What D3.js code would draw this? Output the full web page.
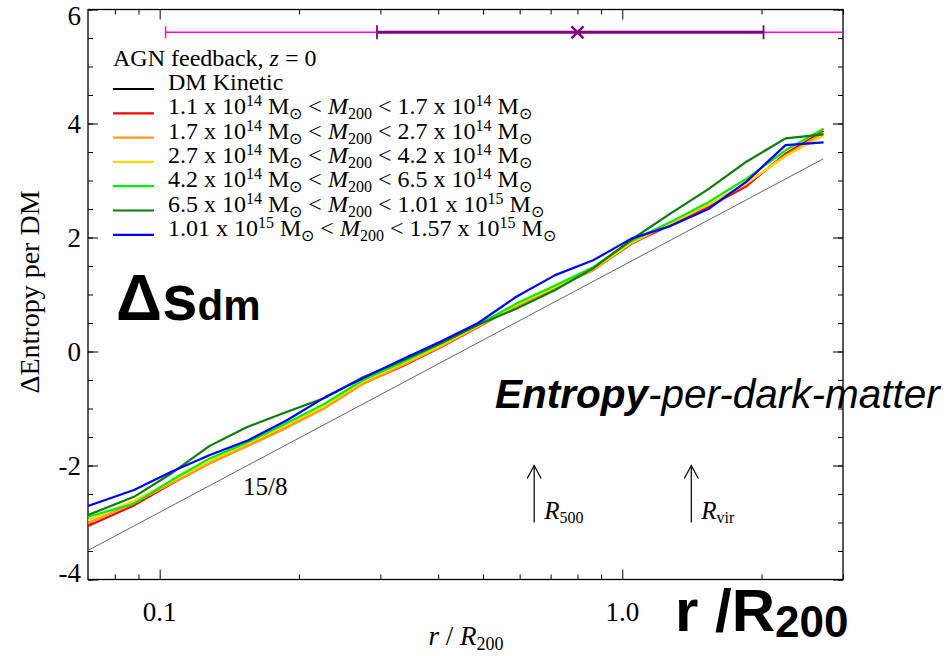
<!DOCTYPE html>
<html>
<head>
<meta charset="utf-8">
<script src="https://cdn.jsdelivr.net/npm/d3@7"></script>
<style>
  body { margin: 0; background: #fff; }
  svg text { fill: #000; }
</style>
</head>
<body>
<div id="container"></div>
<script>
/* canvas and plot frame */
const width = 946;
const height = 656;
const plotLeft = 88, plotRight = 843, plotTop = 9.5, plotBottom = 579.5;
const serif = "'Liberation Serif', 'Times New Roman', serif";
const sans = "'Liberation Sans', Arial, sans-serif";

/* DATA */
const radii = [0.07, 0.088, 0.106, 0.128, 0.155, 0.188, 0.228, 0.275, 0.332, 0.404,
               0.488, 0.59, 0.716, 0.865, 1.046, 1.27, 1.535, 1.855, 2.254, 2.723];
const red    = [-3.06, -2.70, -2.32, -1.96, -1.64, -1.32, -0.98, -0.56, -0.27, 0.07,
                0.43, 0.80, 1.12, 1.43, 1.89, 2.22, 2.54, 2.90, 3.47, 3.87];
const orange = [-3.01, -2.66, -2.31, -1.97, -1.66, -1.34, -0.99, -0.57, -0.26, 0.08,
                0.44, 0.80, 1.12, 1.43, 1.90, 2.24, 2.57, 2.94, 3.44, 3.84];
const yellow = [-2.96, -2.62, -2.28, -1.93, -1.62, -1.30, -0.95, -0.53, -0.23, 0.10,
                0.45, 0.82, 1.13, 1.45, 1.91, 2.25, 2.58, 2.95, 3.43, 3.79];
const lime   = [-2.90, -2.67, -2.26, -1.88, -1.59, -1.26, -0.91, -0.50, -0.20, 0.13,
                0.47, 0.84, 1.16, 1.48, 1.94, 2.27, 2.62, 3.03, 3.53, 3.91];
const dgreen = [-2.87, -2.55, -2.14, -1.66, -1.32, -1.06, -0.81, -0.45, -0.17, 0.14,
                0.47, 0.75, 1.08, 1.46, 1.96, 2.42, 2.85, 3.33, 3.74, 3.81];
const blue   = [-2.71, -2.43, -2.11, -1.82, -1.56, -1.21, -0.80, -0.47, -0.15, 0.17,
                0.50, 0.96, 1.34, 1.60, 1.98, 2.20, 2.50, 2.98, 3.62, 3.67];

const seriesValues = [red, orange, yellow, lime, dgreen, blue];
const seriesColors = ["#ff0000", "#ff9a1a", "#ffd700", "#00f000", "#0a7d0a", "#0000ff"];

/* legend text pieces */
const massLo = ["1.1", "1.7", "2.7", "4.2", "6.5", "1.01"];
const expLo  = ["14", "14", "14", "14", "14", "15"];
const massHi = ["1.7", "2.7", "4.2", "6.5", "1.01", "1.57"];
const expHi  = ["14", "14", "14", "14", "15", "15"];

/* 15/8 reference line end points */
const refR = [0.07, 2.72];
const refS = [-3.49, 3.38];

/* error bars at the top */
const barY = 5.6;
const wideBar = [0.103, 3.0];
const narrowBar = [0.295, 2.02];
const barCentre = 0.8;

/* arrows: R500 and Rvir */
const arrowR = [0.645, 1.41];
const arrowLabel = ["500", "vir"];
const arrowFrom = -3.0, arrowTo = -2.0;

/* axis ticks */
const xMajor = [0.1, 1.0];
const xMajorLabels = ["0.1", "1.0"];
const xMinor = [0.08, 0.09, 0.2, 0.3, 0.4, 0.5, 0.6, 0.7, 0.8, 0.9, 2, 3];
const yMajor = [-4, -2, 0, 2, 4, 6];
const yMinor = d3.range(-4, 6.01, 0.5);

/* SVG */
const svg = d3.select("#container").append("svg")
  .attr("width", width).attr("height", height)
  .style("display", "block");

/* SCALES */
const xScale = d3.scaleLog().domain([0.07, 3.0]).range([plotLeft, plotRight]);
const yScale = d3.scaleLinear().domain([-4, 6]).range([plotBottom, plotTop]);

/* AXES - inward ticks on all four sides */
function tickAxis(axisFn, scale, values, size, pos) {
  const g = svg.append("g")
    .attr("transform", pos)
    .call(axisFn(scale).tickValues(values).tickSize(size).tickFormat(""));
  g.select(".domain").remove();
  g.selectAll(".tick line").attr("stroke", "#000").attr("stroke-width", 1);
  return g;
}
tickAxis(d3.axisTop, xScale, xMajor, 10, `translate(0,${plotBottom})`);
tickAxis(d3.axisTop, xScale, xMinor, 5, `translate(0,${plotBottom})`);
tickAxis(d3.axisBottom, xScale, xMajor, 10, `translate(0,${plotTop})`);
tickAxis(d3.axisBottom, xScale, xMinor, 5, `translate(0,${plotTop})`);
tickAxis(d3.axisRight, yScale, yMajor, 10, `translate(${plotLeft},0)`);
tickAxis(d3.axisRight, yScale, yMinor, 5, `translate(${plotLeft},0)`);
tickAxis(d3.axisLeft, yScale, yMajor, 10, `translate(${plotRight},0)`);
tickAxis(d3.axisLeft, yScale, yMinor, 5, `translate(${plotRight},0)`);

svg.append("rect")
  .attr("x", plotLeft).attr("y", plotTop)
  .attr("width", plotRight - plotLeft).attr("height", plotBottom - plotTop)
  .attr("fill", "none").attr("stroke", "#000").attr("stroke-width", 1.3);

/* tick labels */
svg.selectAll(".xlab").data(xMajor).join("text")
  .attr("x", d => xScale(d)).attr("y", 621)
  .attr("text-anchor", "middle")
  .attr("font-family", serif).attr("font-size", 27)
  .text((d, i) => xMajorLabels[i]);

svg.selectAll(".ylab").data(yMajor).join("text")
  .attr("x", plotLeft - 7)
  .attr("y", d => Math.max(16, Math.min(573, yScale(d))) + 9)
  .attr("text-anchor", "end")
  .attr("font-family", serif).attr("font-size", 27)
  .text(d => d);

/* axis titles */
const xt = svg.append("text")
  .attr("x", 466).attr("y", 645).attr("text-anchor", "middle")
  .attr("font-family", serif).attr("font-size", 27);
xt.append("tspan").attr("font-style", "italic").text("r");
xt.append("tspan").text(" / ");
xt.append("tspan").attr("font-style", "italic").text("R");
xt.append("tspan").attr("font-size", 18).attr("dy", 5).text("200");

svg.append("text")
  .attr("transform", "translate(39,292) rotate(-90)")
  .attr("text-anchor", "middle")
  .attr("font-family", serif).attr("font-size", 28)
  .text("\u0394Entropy per DM");

/* 15/8 reference line */
svg.append("line")
  .attr("x1", xScale(refR[0])).attr("y1", yScale(refS[0]))
  .attr("x2", xScale(refR[1])).attr("y2", yScale(refS[1]))
  .attr("stroke", "#666").attr("stroke-width", 1);
svg.append("text")
  .attr("x", 243).attr("y", 495)
  .attr("font-family", serif).attr("font-size", 25)
  .text("15/8");

/* profile lines */
const line = d3.line()
  .x((d, i) => xScale(radii[i]))
  .y(d => yScale(d));
svg.selectAll(".profile").data(seriesValues).join("path")
  .attr("class", "profile")
  .attr("d", d => line(d))
  .attr("fill", "none")
  .attr("stroke", (d, i) => seriesColors[i])
  .attr("stroke-width", 2.2)
  .attr("stroke-linejoin", "round");

/* error bars */
const by = yScale(barY);
svg.append("line")
  .attr("x1", xScale(wideBar[0])).attr("x2", xScale(wideBar[1]))
  .attr("y1", by).attr("y2", by)
  .attr("stroke", "#ff00ff").attr("stroke-width", 1.5);
svg.append("line")
  .attr("x1", xScale(wideBar[0])).attr("x2", xScale(wideBar[0]))
  .attr("y1", by - 6).attr("y2", by + 6)
  .attr("stroke", "#ff00ff").attr("stroke-width", 1.5);
svg.append("line")
  .attr("x1", xScale(narrowBar[0])).attr("x2", xScale(narrowBar[1]))
  .attr("y1", by).attr("y2", by)
  .attr("stroke", "#800080").attr("stroke-width", 3);
svg.selectAll(".cap").data(narrowBar).join("line")
  .attr("x1", d => xScale(d)).attr("x2", d => xScale(d))
  .attr("y1", by - 7).attr("y2", by + 7)
  .attr("stroke", "#800080").attr("stroke-width", 1.8);
const cx = xScale(barCentre);
[[-6, -6, 6, 6], [-6, 6, 6, -6]].forEach(s => {
  svg.append("line")
    .attr("x1", cx + s[0]).attr("y1", by + s[1])
    .attr("x2", cx + s[2]).attr("y2", by + s[3])
    .attr("stroke", "#800080").attr("stroke-width", 2.5);
});

/* arrows */
arrowR.forEach((r, i) => {
  const ax = xScale(r), y0 = yScale(arrowFrom), y1 = yScale(arrowTo);
  svg.append("line").attr("x1", ax).attr("x2", ax).attr("y1", y0).attr("y2", y1)
    .attr("stroke", "#000").attr("stroke-width", 1.2);
  svg.append("path")
    .attr("d", `M${ax - 7},${y1 + 13}L${ax},${y1}L${ax + 7},${y1 + 13}`)
    .attr("fill", "none").attr("stroke", "#000").attr("stroke-width", 1.2);
  const t = svg.append("text").attr("x", ax + 10).attr("y", y0 - 4)
    .attr("font-family", serif).attr("font-size", 25);
  t.append("tspan").attr("font-style", "italic").text("R");
  t.append("tspan").attr("font-size", 16).attr("dy", 4).text(arrowLabel[i]);
});

/* legend */
svg.append("text")
  .attr("x", 113).attr("y", 66)
  .attr("font-family", serif).attr("font-size", 24)
  .call(t => {
    t.append("tspan").text("AGN feedback, ");
    t.append("tspan").attr("font-style", "italic").text("z");
    t.append("tspan").text(" = 0");
  });

const legY = i => 89 + 24.3 * i;
const legColors = ["#000"].concat(seriesColors);
svg.selectAll(".legline").data(legColors).join("line")
  .attr("x1", 113).attr("x2", 154)
  .attr("y1", (d, i) => legY(i)).attr("y2", (d, i) => legY(i))
  .attr("stroke", d => d).attr("stroke-width", 2.2);

svg.append("text")
  .attr("x", 168).attr("y", legY(0) + 1)
  .attr("font-family", serif).attr("font-size", 24)
  .text("DM Kinetic");

massLo.forEach((lo, i) => {
  const t = svg.append("text")
    .attr("x", 168).attr("y", legY(i + 1) + 1)
    .attr("font-family", serif).attr("font-size", 24);
  const sup = 8, sub = 5, small = 16;
  t.append("tspan").text(`${lo} x 10`);
  t.append("tspan").attr("font-size", small).attr("dy", -sup).text(expLo[i]);
  t.append("tspan").attr("dy", sup).text(" M");
  t.append("tspan").attr("font-size", small).attr("dy", sub).text("\u2299");
  t.append("tspan").attr("dy", -sub).text(" < ");
  t.append("tspan").attr("font-style", "italic").text("M");
  t.append("tspan").attr("font-size", small).attr("dy", sub).text("200");
  t.append("tspan").attr("dy", -sub).text(` < ${massHi[i]} x 10`);
  t.append("tspan").attr("font-size", small).attr("dy", -sup).text(expHi[i]);
  t.append("tspan").attr("dy", sup).text(" M");
  t.append("tspan").attr("font-size", small).attr("dy", sub).text("\u2299");
});

/* big annotations */
const ds = svg.append("text")
  .attr("x", 116).attr("y", 320)
  .attr("font-family", sans).attr("font-weight", "bold").attr("font-size", 64);
ds.append("tspan").text("\u0394s");
ds.append("tspan").attr("font-size", 42).text("dm");

const ep = svg.append("text")
  .attr("x", 495).attr("y", 408)
  .attr("font-family", sans).attr("font-style", "italic").attr("font-size", 40.5);
ep.append("tspan").attr("font-weight", "bold").text("Entropy");
ep.append("tspan").text("-per-dark-matter");

const rr = svg.append("text")
  .attr("x", 675).attr("y", 631)
  .attr("font-family", sans).attr("font-weight", "bold").attr("font-size", 60);
rr.append("tspan").text("r /R");
rr.append("tspan").attr("font-size", 44).attr("dy", 6).text("200");
</script>
</body>
</html>
